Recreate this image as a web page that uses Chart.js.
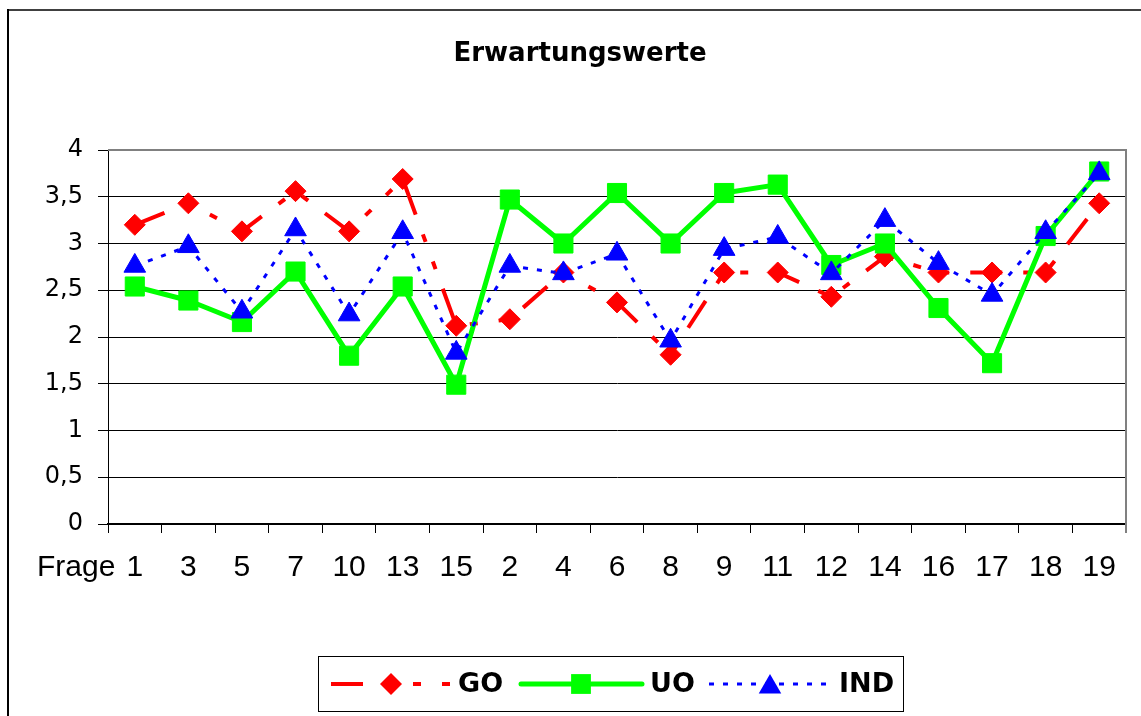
<!DOCTYPE html>
<html>
<head>
<meta charset="utf-8">
<script src="https://cdn.jsdelivr.net/npm/chart.js@4/dist/chart.umd.min.js"></script>
<style>
  html, body { margin: 0; padding: 0; background: #fff; }
  #wrap { width: 1141px; height: 716px; position: relative; }
</style>
</head>
<body>
<div id="wrap"><canvas id="c" width="1141" height="716"></canvas></div>
<script>
// ---- data ----
const categories = ['1','3','5','7','10','13','15','2','4','6','8','9','11','12','14','16','17','18','19'];
const goValues  = [3.20, 3.43, 3.13, 3.56, 3.13, 3.69, 2.12, 2.19, 2.69, 2.37, 1.81, 2.69, 2.69, 2.43, 2.86, 2.69, 2.69, 2.69, 3.43];
const uoValues  = [2.54, 2.39, 2.16, 2.70, 1.80, 2.54, 1.49, 3.47, 3.00, 3.54, 3.00, 3.54, 3.63, 2.77, 3.00, 2.31, 1.72, 3.08, 3.77];
const indValues = [2.76, 2.97, 2.27, 3.15, 2.24, 3.12, 1.83, 2.76, 2.68, 2.89, 1.96, 2.94, 3.07, 2.68, 3.25, 2.79, 2.45, 3.12, 3.75];
const seriesNames = ['GO', 'UO', 'IND'];
const yTickLabels = ['0', '0,5', '1', '1,5', '2', '2,5', '3', '3,5', '4'];
const titleText = 'Erwartungswerte';
const xAxisCaption = 'Frage';

const RED = '#FF0000', GREEN = '#00FF00', BLUE = '#0000FF';
const GO_DASH = [32, 21, 8, 21, 8, 21];
const IND_DASH = [5, 9];

function marker(ctx, style, x, y, r, color) {
  ctx.save();
  ctx.fillStyle = color;
  ctx.beginPath();
  if (style === 'rectRot') {
    ctx.moveTo(x, y - r); ctx.lineTo(x + r, y); ctx.lineTo(x, y + r); ctx.lineTo(x - r, y);
  } else if (style === 'rect') {
    const s = r * Math.SQRT1_2;
    ctx.rect(x - s, y - s, 2 * s, 2 * s);
  } else {
    const c = Math.cos(Math.PI / 6);
    ctx.moveTo(x, y - r); ctx.lineTo(x + r * c, y + r / 2); ctx.lineTo(x - r * c, y + r / 2);
  }
  ctx.closePath();
  ctx.fill();
  ctx.restore();
}

const decor = {
  id: 'decor',
  beforeDatasetsDraw(chart) {
    const {ctx, chartArea: a} = chart;
    ctx.save();
    ctx.strokeStyle = '#808080';
    ctx.lineWidth = 2;
    ctx.beginPath();
    ctx.moveTo(a.left, a.top);
    ctx.lineTo(a.right, a.top);
    ctx.lineTo(a.right, a.bottom + 9);
    ctx.stroke();
    ctx.restore();
  },
  afterDraw(chart) {
    const ctx = chart.ctx;
    ctx.save();
    // outer frame
    ctx.strokeStyle = '#404040';
    ctx.lineWidth = 2;
    ctx.beginPath();
    ctx.moveTo(7, 10); ctx.lineTo(1141, 10);
    ctx.stroke();
    ctx.strokeStyle = '#000';
    ctx.beginPath();
    ctx.moveTo(8, 9); ctx.lineTo(8, 716);
    ctx.stroke();

    // title
    ctx.fillStyle = '#000';
    ctx.font = 'bold 26px "DejaVu Sans"';
    ctx.textAlign = 'center';
    ctx.textBaseline = 'alphabetic';
    ctx.fillText(titleText, 580, 61);

    // x axis caption
    ctx.font = '30px "Liberation Sans"';
    ctx.textAlign = 'left';
    ctx.textBaseline = 'middle';
    ctx.fillText(xAxisCaption, 37, 568);

    // legend box
    ctx.strokeStyle = '#000';
    ctx.lineWidth = 1;
    ctx.strokeRect(318.5, 656.5, 585, 55);
    const ly = 684;
    // GO
    ctx.strokeStyle = RED; ctx.lineWidth = 4; ctx.lineCap = 'butt';
    ctx.setLineDash(GO_DASH);
    ctx.beginPath(); ctx.moveTo(331, ly); ctx.lineTo(450, ly); ctx.stroke();
    ctx.setLineDash([]);
    marker(ctx, 'rectRot', 391, ly, 11, RED);
    // UO
    ctx.strokeStyle = GREEN; ctx.lineWidth = 5; ctx.lineCap = 'round';
    ctx.beginPath(); ctx.moveTo(521, ly); ctx.lineTo(642, ly); ctx.stroke();
    marker(ctx, 'rect', 581, ly, 14, GREEN);
    // IND
    ctx.strokeStyle = BLUE; ctx.lineWidth = 3; ctx.lineCap = 'butt';
    ctx.setLineDash(IND_DASH);
    ctx.beginPath(); ctx.moveTo(709, ly); ctx.lineTo(830, ly); ctx.stroke();
    ctx.setLineDash([]);
    marker(ctx, 'triangle', 770, ly + 3, 13, BLUE);
    // legend texts
    ctx.fillStyle = '#000';
    ctx.font = 'bold 27px "DejaVu Sans"';
    ctx.textAlign = 'left';
    ctx.textBaseline = 'alphabetic';
    ctx.fillText(seriesNames[0], 458, 692);
    ctx.fillText(seriesNames[1], 650, 692);
    ctx.fillText(seriesNames[2], 839, 692);
    ctx.restore();
  }
};

new Chart(document.getElementById('c'), {
  type: 'line',
  data: {
    labels: categories,
    datasets: [
      {
        label: seriesNames[0], data: goValues, order: 3,
        borderColor: RED, backgroundColor: RED, borderWidth: 4, borderDash: GO_DASH,
        borderCapStyle: 'butt', tension: 0, fill: false,
        pointStyle: 'rectRot', pointRadius: 10.5, pointBorderWidth: 1,
        pointBackgroundColor: RED, pointBorderColor: RED
      },
      {
        label: seriesNames[1], data: uoValues, order: 2,
        borderColor: GREEN, backgroundColor: GREEN, borderWidth: 5,
        borderJoinStyle: 'round', tension: 0, fill: false,
        pointStyle: 'rect', pointRadius: 13.5, pointBorderWidth: 1,
        pointBackgroundColor: GREEN, pointBorderColor: GREEN
      },
      {
        label: seriesNames[2], data: indValues, order: 1,
        borderColor: BLUE, backgroundColor: BLUE, borderWidth: 3, borderDash: IND_DASH,
        tension: 0, fill: false,
        pointStyle: 'triangle', pointRadius: 12.5, pointBorderWidth: 1,
        pointBackgroundColor: BLUE, pointBorderColor: BLUE
      }
    ]
  },
  options: {
    responsive: false,
    animation: false,
    events: [],
    layout: { padding: { left: 0, top: 150, right: 15, bottom: 132 } },
    plugins: {
      legend: { display: false },
      title: { display: false },
      tooltip: { enabled: false }
    },
    scales: {
      x: {
        offset: true,
        grid: { offset: true, drawOnChartArea: false, drawTicks: true, tickLength: 9, color: '#000', lineWidth: 1 },
        border: { display: true, color: '#000', width: 2 },
        ticks: {
          font: { family: 'Liberation Sans', size: 30 },
          color: '#000', padding: 17, maxRotation: 0, autoSkip: false
        },
        afterFit(scale) { scale.height = 60; }
      },
      y: {
        min: 0, max: 4,
        ticks: {
          stepSize: 0.5,
          font: { family: 'DejaVu Sans', size: 24 },
          color: '#000', padding: 15,
          callback: (v, i) => yTickLabels[i]
        },
        grid: { color: '#000', lineWidth: 1, tickLength: 10, drawTicks: true },
        border: { display: true, color: '#000', width: 1 },
        afterFit(scale) { scale.width = 108; }
      }
    }
  },
  plugins: [decor]
});
</script>
</body>
</html>
